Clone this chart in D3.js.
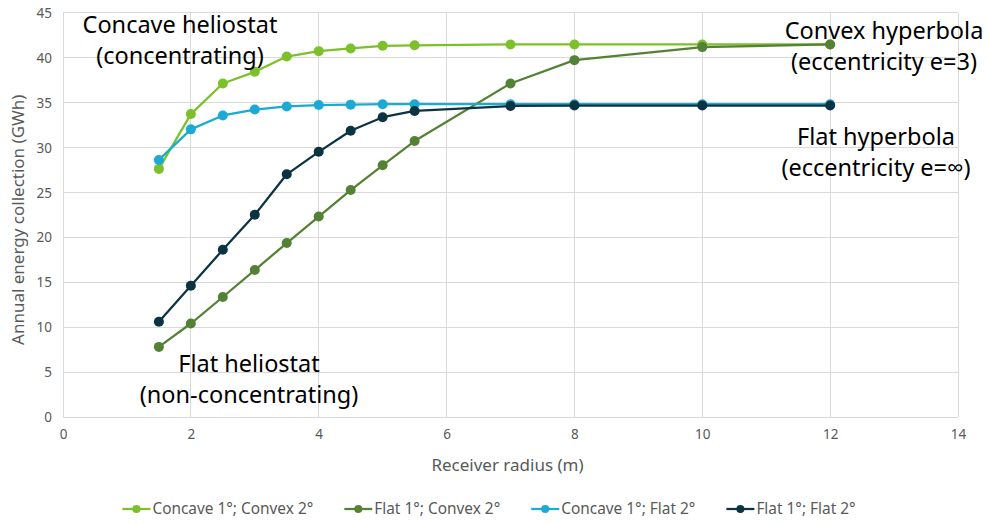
<!DOCTYPE html>
<html>
<head>
<meta charset="utf-8">
<script src="https://cdn.jsdelivr.net/npm/d3@7"></script>
<style>
  html, body { margin: 0; padding: 0; background: #fff; }
  svg { display: block; }
  text { font-family: "Noto Sans", "Open Sans", sans-serif; }
</style>
</head>
<body>
<svg id="chart" width="987" height="523"></svg>
<script>
// Receiver radius (m) sampled for every configuration
const radius = [1.5, 2, 2.5, 3, 3.5, 4, 4.5, 5, 5.5, 7, 8, 10, 12];

// Annual energy collection (GWh)
const concaveConvex = [27.6, 33.7, 37.1, 38.4, 40.1, 40.7, 41.0, 41.3, 41.35, 41.45, 41.45, 41.45, 41.45];
const flatConvex    = [7.8, 10.4, 13.35, 16.35, 19.35, 22.3, 25.25, 28.0, 30.7, 37.1, 39.7, 41.15, 41.45];
const concaveFlat   = [28.6, 32.0, 33.55, 34.2, 34.55, 34.7, 34.75, 34.8, 34.8, 34.8, 34.8, 34.8, 34.8];
const flatFlat      = [10.6, 14.6, 18.6, 22.5, 27.0, 29.5, 31.85, 33.35, 34.05, 34.6, 34.65, 34.65, 34.65];

const seriesNames  = ["Concave 1°; Convex 2°", "Flat 1°; Convex 2°", "Concave 1°; Flat 2°", "Flat 1°; Flat 2°"];
const seriesValues = [concaveConvex, flatConvex, concaveFlat, flatFlat];
const seriesColors = ["#7cc02a", "#548235", "#1aaad4", "#0c3341"];

const xTicks = [0, 2, 4, 6, 8, 10, 12, 14];
const yTicks = [0, 5, 10, 15, 20, 25, 30, 35, 40, 45];

const svg = d3.select("#chart");
const plot = { left: 63, right: 958, top: 12.5, bottom: 417 };

const x = d3.scaleLinear().domain([0, 14]).range([plot.left, plot.right]);
const y = d3.scaleLinear().domain([0, 45]).range([plot.bottom, plot.top]);

// Gridlines
const grid = svg.append("g").attr("stroke", "#d9d9d9").attr("stroke-width", 1).attr("shape-rendering", "crispEdges");
grid.selectAll("line.h").data(yTicks).join("line")
  .attr("x1", plot.left).attr("x2", plot.right)
  .attr("y1", d => y(d)).attr("y2", d => y(d));
grid.selectAll("line.v").data(xTicks).join("line")
  .attr("y1", plot.top).attr("y2", plot.bottom)
  .attr("x1", d => x(d)).attr("x2", d => x(d));

// Axes (labels only; the grid carries the lines)
const xAxis = svg.append("g")
  .attr("transform", `translate(0,${plot.bottom})`)
  .call(d3.axisBottom(x).tickValues(xTicks).tickSize(0).tickPadding(10));
const yAxis = svg.append("g")
  .attr("transform", `translate(${plot.left},0)`)
  .call(d3.axisLeft(y).tickValues(yTicks).tickSize(0).tickPadding(11));
[xAxis, yAxis].forEach(a => {
  a.select(".domain").remove();
  a.selectAll("text").attr("fill", "#595959").style("font-size", "13.5px")
    .style("font-family", '"Noto Sans", sans-serif');
});
xAxis.selectAll("text").attr("dy", "0.9em");
yAxis.selectAll("text").attr("dy", "0.35em");

// Axis titles
svg.append("text")
  .attr("x", (plot.left + plot.right) / 2 - 3).attr("y", 471)
  .attr("text-anchor", "middle").attr("fill", "#595959").style("font-size", "17px")
  .text("Receiver radius (m)");
svg.append("text")
  .attr("transform", `translate(24,${(plot.top + plot.bottom) / 2 + 5}) rotate(-90)`)
  .attr("text-anchor", "middle").attr("fill", "#595959").style("font-size", "17px")
  .text("Annual energy collection (GWh)");

// Series lines and markers
const line = d3.line().x((d, i) => x(radius[i])).y(d => y(d));
seriesValues.forEach((vals, s) => {
  const g = svg.append("g");
  g.append("path").datum(vals)
    .attr("d", line).attr("fill", "none")
    .attr("stroke", seriesColors[s]).attr("stroke-width", 2.25)
    .attr("stroke-linejoin", "round");
  g.selectAll("circle").data(vals).join("circle")
    .attr("cx", (d, i) => x(radius[i])).attr("cy", d => y(d))
    .attr("r", 5).attr("fill", seriesColors[s]);
});

// Annotations
const notes = [
  { lines: ["Concave heliostat", "(concentrating)"], cx: 180, y0: 33 },
  { lines: ["Convex hyperbola", "(eccentricity e=3)"], cx: 884, y0: 39 },
  { lines: ["Flat hyperbola", "(eccentricity e=∞)"], cx: 876, y0: 145 },
  { lines: ["Flat heliostat", "(non-concentrating)"], cx: 249, y0: 372 }
];
notes.forEach(n => {
  const t = svg.append("text").attr("text-anchor", "middle").attr("fill", "#000")
    .style("font-size", "23.5px");
  n.lines.forEach((l, i) => {
    t.append("tspan").attr("x", n.cx).attr("y", n.y0 + i * 31).text(l);
  });
});

// Legend, centred under the plot
const legend = svg.append("g");
let cursor = 0;
seriesNames.forEach((name, s) => {
  const g = legend.append("g");
  g.append("line").attr("x1", 0).attr("x2", 28).attr("y1", 0).attr("y2", 0)
    .attr("stroke", seriesColors[s]).attr("stroke-width", 2.25);
  g.append("circle").attr("cx", 14).attr("cy", 0).attr("r", 4).attr("fill", seriesColors[s]);
  const t = g.append("text").attr("x", 30).attr("y", 0).attr("dy", "0.35em")
    .attr("fill", "#595959").style("font-size", "15.4px").text(name);
  const w = 30 + t.node().getComputedTextLength();
  g.attr("transform", `translate(${cursor},0)`);
  cursor += w + 31;
});
const legendWidth = cursor - 31;
legend.attr("transform", `translate(${489 - legendWidth / 2},509)`);
</script>
</body>
</html>
